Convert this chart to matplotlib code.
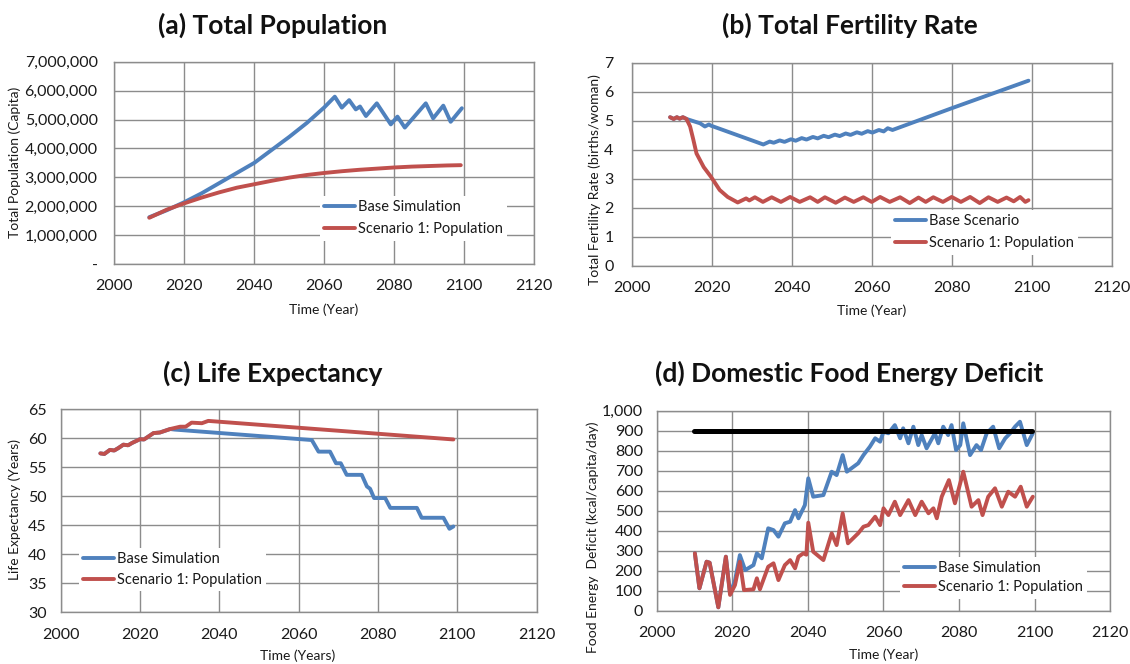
import matplotlib
matplotlib.use("Agg")
import matplotlib.pyplot as plt
from matplotlib.ticker import FuncFormatter, MultipleLocator

plt.rcParams['font.family'] = ['Lato', 'DejaVu Sans']
plt.rcParams['lines.solid_joinstyle'] = 'round'
plt.rcParams['lines.solid_capstyle'] = 'round'

#----------------------------------------------------------- data
# (a) total population, millions
pop_base_years = [2010, 2015, 2020, 2025, 2030, 2035, 2040, 2045, 2050, 2055, 2060, 2063,
                  2065, 2067.1, 2069, 2070.2, 2071.9, 2075, 2079, 2080.9, 2083, 2089,
                  2091.1, 2094, 2096.1, 2099.3]
pop_base = [1.62, 1.86, 2.14, 2.45, 2.8, 3.15, 3.5, 3.95, 4.4, 4.88, 5.42, 5.79,
            5.41, 5.67, 5.35, 5.45, 5.12, 5.56, 4.83, 5.1, 4.72, 5.56,
            5.04, 5.48, 4.92, 5.39]
pop_s1_years = [2010, 2015, 2020, 2025, 2030, 2035, 2040, 2045, 2050, 2055, 2060, 2065,
                2070, 2075, 2080, 2085, 2090, 2095, 2099]
pop_s1 = [1.6, 1.88, 2.1, 2.3, 2.48, 2.64, 2.76, 2.88, 2.99, 3.08, 3.15, 3.21,
          3.26, 3.3, 3.34, 3.37, 3.39, 3.41, 3.42]

# (b) total fertility rate
tfr_base_years = [2009.6, 2010.5, 2011.3, 2012, 2012.8, 2013.7, 2017.1, 2018.3, 2019.3, 2019.8,
                  2032.9, 2034.5, 2035.5, 2037, 2038.2, 2039.8, 2041, 2042.5, 2043.7, 2045.3,
                  2046.5, 2048, 2049.2, 2050.8, 2052, 2053.5, 2054.7, 2056.3, 2057.5, 2059,
                  2060.2, 2061.8, 2063, 2064, 2065.2, 2080, 2099.2]
tfr_base = [5.12, 5.06, 5.12, 5.07, 5.12, 5.06, 4.91, 4.8, 4.87, 4.83,
            4.18, 4.28, 4.24, 4.32, 4.27, 4.36, 4.31, 4.4, 4.35, 4.44,
            4.39, 4.48, 4.43, 4.52, 4.47, 4.56, 4.51, 4.6, 4.55, 4.64,
            4.59, 4.68, 4.63, 4.74, 4.68, 5.43, 6.38]
tfr_s1_years = [2009.6, 2010.5, 2011.3, 2012, 2012.8, 2013.7, 2014.6, 2015.4, 2016.2, 2018, 2019.8,
                2022, 2024, 2026.5, 2028.6, 2029.4, 2030.8, 2032.8, 2035, 2037.3, 2039.6,
                2042, 2044.6, 2046.5, 2048.3, 2051, 2053.3, 2055.5, 2057.9, 2060, 2062.1,
                2064.5, 2067.1, 2069.5, 2071.7, 2073.5, 2075.4, 2077.8, 2080, 2082.3, 2084.6,
                2087, 2089.2, 2091.5, 2093.7, 2095.5, 2097.1, 2098.4, 2099.2]
tfr_s1 = [5.12, 5.06, 5.12, 5.07, 5.12, 5.06, 4.8, 4.35, 3.87, 3.4, 3.07,
          2.61, 2.37, 2.18, 2.32, 2.25, 2.36, 2.2, 2.36, 2.2, 2.37,
          2.2, 2.36, 2.2, 2.36, 2.17, 2.35, 2.2, 2.36, 2.2, 2.37,
          2.2, 2.36, 2.16, 2.35, 2.2, 2.36, 2.2, 2.37, 2.2, 2.37,
          2.16, 2.36, 2.2, 2.35, 2.22, 2.37, 2.2, 2.26]

# (c) life expectancy
le_base_years = [2010, 2011, 2012.4, 2013.5, 2014.5, 2015.8, 2017, 2018, 2020, 2021,
                 2023.4, 2025, 2027.6, 2028.8, 2063.3, 2065, 2067.9, 2069.4, 2070.6, 2072.1,
                 2075.9, 2077.2, 2078, 2079, 2081.8, 2083.1, 2089.8, 2091, 2096.5, 2098, 2099]
le_base = [57.4, 57.3, 58.0, 57.9, 58.3, 58.9, 58.8, 59.2, 59.85, 59.8,
           60.9, 61.0, 61.6, 61.5, 59.7, 57.7, 57.7, 55.7, 55.7, 53.7,
           53.7, 51.7, 51.3, 49.7, 49.7, 48.0, 48.0, 46.3, 46.3, 44.4, 44.8]
le_s1_years = [2010, 2011, 2012.4, 2013.5, 2014.5, 2015.8, 2017, 2018, 2020, 2021,
               2023.4, 2025, 2027.6, 2030.1, 2031.5, 2033, 2035.6, 2037.2, 2099]
le_s1 = [57.4, 57.3, 58.0, 57.9, 58.3, 58.9, 58.8, 59.2, 59.85, 59.8,
         60.9, 61.0, 61.6, 62.0, 62.0, 62.7, 62.6, 63.0, 59.8]

# (d) food energy deficit, kcal/capita/day
fed_base_years = [2010.1, 2011.3, 2013.2, 2014, 2016.3, 2018.3, 2019.4, 2020.7, 2022, 2023.4,
                  2025.6, 2026.5, 2027.8, 2029.5, 2030.9, 2032.2, 2033.9, 2035.3, 2036.6, 2037.5,
                  2039.2, 2040.1, 2041.4, 2044.1, 2046.3, 2047.6, 2049.2, 2050.3, 2053.3, 2054.7,
                  2056.4, 2057.8, 2059.1, 2060, 2061.3, 2063, 2064.4, 2065.2, 2066.6, 2067.9,
                  2069.2, 2070.1, 2071.4, 2073.6, 2074.5, 2075.8, 2077.1, 2078, 2079.2, 2080.3,
                  2081.1, 2082.9, 2084.6, 2085.8, 2087.3, 2089, 2090.6, 2092.2, 2093.5, 2094.8,
                  2096.1, 2097.9, 2099.5]
fed_base = [287, 112, 245, 240, 17, 270, 87, 150, 278, 203,
            228, 287, 262, 412, 403, 370, 437, 445, 503, 462,
            528, 662, 570, 578, 695, 678, 778, 695, 737, 778,
            820, 862, 845, 895, 887, 928, 862, 912, 837, 920,
            828, 878, 812, 887, 837, 920, 878, 928, 803, 828,
            937, 778, 828, 803, 887, 920, 812, 862, 887, 920,
            945, 828, 887]
fed_s1_years = [2010.1, 2011.3, 2013.2, 2014, 2016.3, 2018.3, 2019.4, 2020.7, 2022, 2023.1,
                2025.6, 2026.5, 2027.3, 2029.5, 2030.9, 2032.2, 2033.9, 2035.3, 2036.6, 2037.5,
                2038.8, 2039.6, 2040.1, 2041.4, 2044.1, 2046.3, 2047.6, 2049.2, 2050.6, 2053.3,
                2054.7, 2056, 2057.8, 2059.1, 2060, 2061.3, 2063, 2064.4, 2066.6, 2068.4,
                2070.1, 2071.9, 2073.2, 2074.1, 2075.4, 2077.3, 2078.9, 2081.1, 2083.3, 2085.1,
                2086.2, 2087.7, 2089.5, 2091.3, 2093, 2094.8, 2096.3, 2097.9, 2099.5]
fed_s1 = [287, 112, 245, 240, 17, 270, 79, 128, 245, 103,
          107, 162, 107, 220, 237, 153, 228, 253, 212, 270,
          287, 280, 440, 295, 253, 387, 328, 487, 337, 387,
          420, 428, 470, 428, 512, 478, 545, 478, 553, 478,
          545, 487, 512, 462, 570, 653, 537, 695, 520, 553,
          478, 570, 612, 520, 595, 570, 620, 520, 570]
fed_limit_years = [2010, 2099.4]
fed_limit = [900, 900]

BLUE = '#4F81BD'
RED = '#C0504D'
GRID = '#8C8C8C'
LW = 2.8
W, H = 1130, 664

fig = plt.figure(figsize=(W / 100, H / 100), dpi=100)


def box(l, t, r, b):
    return [l / W, 1 - b / H, (r - l) / W, (b - t) / H]


def ftext(x, y, s, **kw):
    fig.text(x / W, 1 - y / H, s, ha='center', va='center', **kw)


def style(ax, ylo, yhi, ystep, ypad):
    ax.set_xlim(2000, 2120)
    ax.set_ylim(ylo, yhi)
    ax.xaxis.set_major_locator(MultipleLocator(20))
    ax.yaxis.set_major_locator(MultipleLocator(ystep))
    ax.grid(True, color=GRID, linewidth=1.0)
    ax.set_axisbelow(True)
    for s in ax.spines.values():
        s.set_color(GRID)
        s.set_linewidth(1.0)
    ax.tick_params(axis='both', length=0, labelsize=11.5, colors='#1a1a1a')
    ax.tick_params(axis='x', pad=11)
    ax.tick_params(axis='y', pad=ypad)


def add_legend(ax, handles, x, y, labels, spacing):
    leg = ax.legend(handles, labels, loc='upper left', bbox_to_anchor=(x / W, 1 - y / H),
                    bbox_transform=fig.transFigure, fontsize=10.5, frameon=True,
                    fancybox=False, edgecolor='none', facecolor='white', framealpha=1,
                    handlelength=2.1, handletextpad=0.2, borderpad=0.3,
                    borderaxespad=0, labelspacing=spacing)
    for t in leg.get_texts():
        t.set_color('#1a1a1a')


#----------------------------------------------------------- (a)
ax1 = fig.add_axes(box(114.3, 61.7, 534.3, 264))
b1, = ax1.plot(pop_base_years, [v * 1e6 for v in pop_base], color=BLUE, lw=LW)
r1, = ax1.plot(pop_s1_years, [v * 1e6 for v in pop_s1], color=RED, lw=LW)
style(ax1, 0, 7e6, 1e6, 12)
ax1.yaxis.set_major_formatter(FuncFormatter(lambda v, p: '-' if v == 0 else f'{int(v):,}'))
add_legend(ax1, [b1, r1], 320, 196, ['Base Simulation', 'Scenario 1: Population'], 0.55)

#----------------------------------------------------------- (b)
ax2 = fig.add_axes(box(631.7, 62.7, 1111.7, 265.7))
b2, = ax2.plot(tfr_base_years, tfr_base, color=BLUE, lw=LW)
r2, = ax2.plot(tfr_s1_years, tfr_s1, color=RED, lw=LW)
style(ax2, 0, 7, 1, 13)
add_legend(ax2, [b2, r2], 891, 210, ['Base Scenario', 'Scenario 1: Population'], 0.55)

#----------------------------------------------------------- (c)
ax3 = fig.add_axes(box(60.7, 409.3, 536.7, 612.3))
b3, = ax3.plot(le_base_years, le_base, color=BLUE, lw=LW)
r3, = ax3.plot(le_s1_years, le_s1, color=RED, lw=LW)
style(ax3, 30, 65, 5, 10)
add_legend(ax3, [b3, r3], 79, 548, ['Base Simulation', 'Scenario 1: Population'], 0.45)

#----------------------------------------------------------- (d)
ax4 = fig.add_axes(box(656.7, 410.7, 1110.3, 610.7))
b4, = ax4.plot(fed_base_years, fed_base, color=BLUE, lw=LW)
r4, = ax4.plot(fed_s1_years, fed_s1, color=RED, lw=LW)
ax4.plot(fed_limit_years, fed_limit, color='black', lw=3.6)
style(ax4, 0, 1000, 100, 10)
ax4.yaxis.set_major_formatter(FuncFormatter(lambda v, p: f'{int(v):,}'))
add_legend(ax4, [b4, r4], 900, 557, ['Base Simulation', 'Scenario 1: Population'], 0.35)

#----------------------------------------------------------- titles and axis labels
tkw = dict(fontsize=19, fontweight='bold', color='#111111')
ftext(273, 25, '(a) Total Population', **tkw)
ftext(850, 25, '(b) Total Fertility Rate', **tkw)
ftext(273, 373, '(c) Life Expectancy', **tkw)
ftext(849, 373, '(d) Domestic Food Energy Deficit', **tkw)

lkw = dict(fontsize=10, color='#1a1a1a')
ftext(324, 310, 'Time (Year)', **lkw)
ftext(872, 311, 'Time (Year)', **lkw)
ftext(298, 656, 'Time (Years)', **lkw)
ftext(884, 655, 'Time (Year)', **lkw)
ftext(15, 162, 'Total Population (Capita)', rotation=90, **lkw)
ftext(595, 180, 'Total Fertility Rate (births/woman)', rotation=90, **lkw)
ftext(15, 510, 'Life Expectancy (Years)', rotation=90, **lkw)
ftext(593, 537, 'Food Energy  Deficit (kcal/capita/day)', rotation=90, **lkw)

fig.savefig('out.png', dpi=100, facecolor='white')
